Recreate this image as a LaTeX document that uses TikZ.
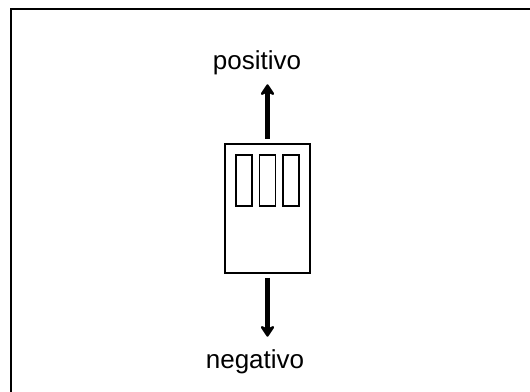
\documentclass[tikz,border=0pt]{standalone}
\usepackage{fontspec}
\setmainfont{Liberation Sans}
\usetikzlibrary{arrows.meta,calc}

\begin{document}
\begin{tikzpicture}[x=1pt,y=1pt,
    caja/.style={draw,line width=2pt,minimum width=85pt,minimum height=129pt,inner sep=0pt},
    ranura/.style={draw,line width=1.8pt,minimum width=16pt,minimum height=51pt,inner sep=0pt},
    etiqueta/.style={font=\fontsize{26}{28}\selectfont,inner sep=1pt},
    flecha/.style={line width=4.5pt,-{Stealth[round,length=13pt,width=17pt,inset=4pt]}}]
    \useasboundingbox (0,0) rectangle (530,391);
    \fill[white] (0,0) rectangle (530,391);

    % marco
    \draw[line width=2.2pt] (545,382) -- (11,382) -- (11,-10);

    \node[caja] (pila) at (267.5,182.5) {};
    \foreach \i/\dx in {1/-23.5,2/0,3/23.5}
        \node[ranura] (ranura\i) at ($(pila.center)+(\dx,28)$) {};

    \node[etiqueta] (pos) at (257,328) {positivo};
    \node[etiqueta] (neg) at (255,29) {negativo};

    \draw[flecha,shorten <=4pt,shorten >=8pt] (pila.north) -- (pila.north |- pos.south);
    \draw[flecha,shorten <=4pt,shorten >=12pt] (pila.south) -- (pila.south |- neg.north);
\end{tikzpicture}
\end{document}
